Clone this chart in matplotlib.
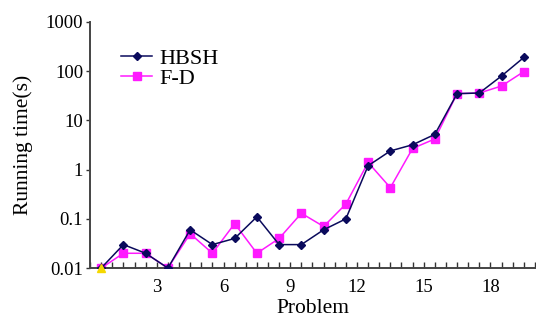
import matplotlib
matplotlib.use("Agg")
import matplotlib.pyplot as plt
from matplotlib.ticker import MultipleLocator, FixedLocator, FixedFormatter, NullLocator

problems = list(range(1, 21))
hbsh = [0.01, 0.03, 0.02, 0.01, 0.06, 0.03, 0.04, 0.11, 0.03, 0.03,
        0.06, 0.10, 1.2, 2.4, 3.2, 5.2, 35, 36, 80, 190]
fd = [0.01, 0.02, 0.02, 0.01, 0.05, 0.02, 0.08, 0.02, 0.04, 0.13,
      0.07, 0.20, 1.4, 0.43, 2.7, 4.2, 35, 36, 50, 98]
xtick_vals = [3, 6, 9, 12, 15, 18]
ytick_vals = [0.01, 0.1, 1, 10, 100, 1000]
ytick_labels = ["0.01", "0.1", "1", "10", "100", "1000"]

plt.rcParams['font.family'] = ['Liberation Serif', 'DejaVu Serif']

fig = plt.figure(figsize=(5.36, 3.23), dpi=100)
ax = fig.add_axes([0.168, 0.170, 0.830, 0.762])

xpos = [p - 0.5 for p in problems]
ax.plot(xpos, hbsh, color='#0a0a5c', lw=1.1, marker='D', ms=4.5,
        mfc='#0a0a5c', mec='#0a0a5c', label='HBSH', zorder=3)
ax.plot(xpos, fd, color='#ff1aff', lw=1.1, marker='s', ms=6.0,
        mfc='#ff1aff', mec='#ff1aff', label='F-D', zorder=2)
ax.plot(xpos[:1], hbsh[:1], linestyle='none', marker='^', ms=6,
        color='#f5d800', zorder=4, clip_on=False)

ax.set_yscale('log')
ax.set_ylim(0.01, 1000)
ax.set_xlim(0, 20)

ax.yaxis.set_major_locator(FixedLocator(ytick_vals))
ax.yaxis.set_major_formatter(FixedFormatter(ytick_labels))
ax.yaxis.set_minor_locator(NullLocator())
ax.xaxis.set_major_locator(FixedLocator(xtick_vals))
ax.xaxis.set_minor_locator(MultipleLocator(0.5))

ax.tick_params(axis='x', which='both', direction='in', length=4, width=1,
               labelsize=13.5, pad=8, color='#333333')
ax.tick_params(axis='y', which='major', direction='out', length=3, width=1,
               labelsize=13.5, pad=2, color='#333333')

for s in ['top', 'right']:
    ax.spines[s].set_visible(False)
for s in ['left', 'bottom']:
    ax.spines[s].set_color('#444444')
    ax.spines[s].set_linewidth(1.4)

ax.set_xlabel('Problem', fontsize=15.5, labelpad=2)
ax.set_ylabel('Running time(s)', fontsize=15.5, labelpad=9)

ax.legend(loc='upper left', bbox_to_anchor=(0.05, 0.93), frameon=False,
          fontsize=16, handlelength=1.4, handletextpad=0.3,
          labelspacing=0.0, borderaxespad=0)

fig.savefig('out.png', dpi=100)
